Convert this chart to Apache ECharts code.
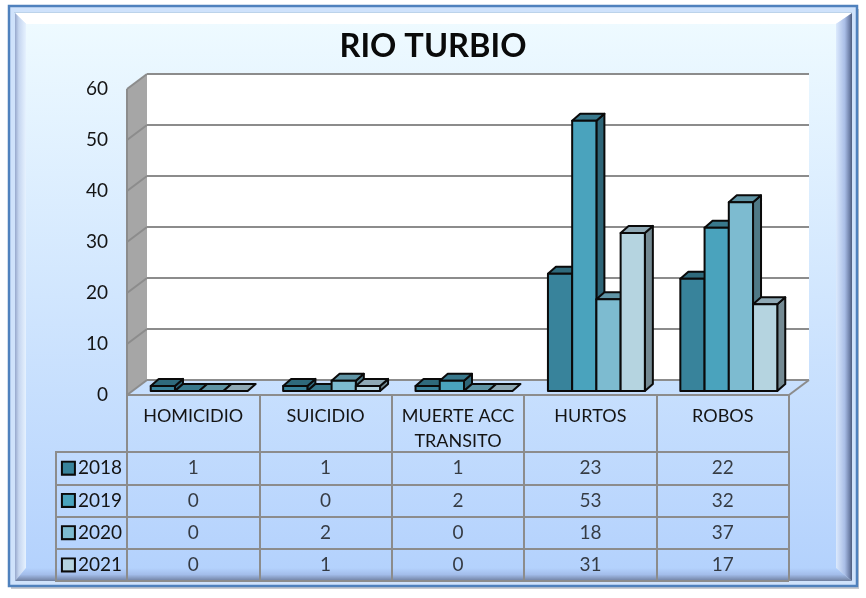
<!DOCTYPE html>
<html>
<head>
<meta charset="utf-8">
<style>html,body{margin:0;padding:0;background:#fff}#c{width:866px;height:598px}</style>
<script src="https://cdn.jsdelivr.net/npm/echarts@6/dist/echarts.min.js"></script>
</head>
<body>
<div id="c"></div>
<script>
var categories = ['HOMICIDIO', 'SUICIDIO', 'MUERTE ACC\nTRANSITO', 'HURTOS', 'ROBOS'];
var years = ['2018', '2019', '2020', '2021'];
var values2018 = [1, 1, 1, 23, 22];
var values2019 = [0, 0, 2, 53, 32];
var values2020 = [0, 2, 0, 18, 37];
var values2021 = [0, 1, 0, 31, 17];
var yTicks = [0, 10, 20, 30, 40, 50, 60];
var title = 'RIO TURBIO';

var rows = [values2018, values2019, values2020, values2021];
var front = ['#38839b', '#4aa3bd', '#7dbbd0', '#b5d4e0'];
var side = ['#2d6578', '#2e6577', '#4f7986', '#748a93'];
var top_ = ['#2f6a7c', '#38788c', '#5f94a5', '#8fa9b5'];
var GRID = '#8c8c8c', FONT = 'Lato, sans-serif', INK = '#141414';
var WALL_DX = 20, WALL_DY = -15, BAR_DX = 6, BAR_DY = -4, DEP_X = 8, DEP_Y = -7, BAR_FRAC = 0.183;

function poly(pts, fill, stroke, w) {
  return { type: 'polygon', shape: { points: pts },
    style: { fill: fill, stroke: stroke || null, lineWidth: w || 0, lineJoin: 'round' } };
}
function line(x1, y1, x2, y2, w) {
  return { type: 'line', shape: { x1: x1, y1: y1, x2: x2, y2: y2 },
    style: { stroke: GRID, lineWidth: w || 2 } };
}
function renderWalls(params, api) {
  var cs = params.coordSys, l = cs.x, r = cs.x + cs.width, t = cs.y, b = cs.y + cs.height;
  return { type: 'group', children: [
    poly([[l + WALL_DX, t + WALL_DY], [r + WALL_DX, t + WALL_DY], [r + WALL_DX, b + WALL_DY], [l + WALL_DX, b + WALL_DY]], '#ffffff'),
    poly([[l, t], [l + WALL_DX, t + WALL_DY], [l + WALL_DX, b + WALL_DY], [l, b]], '#a6a6a6'),
    line(l, t, l, b),
    line(r, b, r + WALL_DX, b + WALL_DY)
  ]};
}
function renderTick(params, api) {
  var cs = params.coordSys, l = cs.x, r = cs.x + cs.width, y = api.coord([0, api.value(0)])[1];
  return { type: 'group', children: [
    line(l, y, l + WALL_DX, y + WALL_DY),
    line(l + WALL_DX, y + WALL_DY, r + WALL_DX, y + WALL_DY)
  ]};
}
function renderBar(s) {
  return function (params, api) {
    var band = api.size([1, 0])[0], w = band * BAR_FRAC;
    var c = api.coord([api.value(0), api.value(1)]), zero = api.coord([api.value(0), 0]);
    var x0 = c[0] + BAR_DX + (s - 2) * w, x1 = x0 + w;
    var yb = zero[1] + BAR_DY, yt = c[1] + BAR_DY;
    var kids = [];
    if (yb - yt > 0.5) {
      kids.push(poly([[x1, yt], [x1 + DEP_X, yt + DEP_Y], [x1 + DEP_X, yb + DEP_Y], [x1, yb]], side[s], '#0a0a0a', 2));
    }
    kids.push(poly([[x0, yt], [x0 + DEP_X, yt + DEP_Y], [x1 + DEP_X, yt + DEP_Y], [x1, yt]], top_[s], '#0a0a0a', 2));
    if (yb - yt > 0.5) {
      kids.push(poly([[x0, yt], [x1, yt], [x1, yb], [x0, yb]], front[s], '#0a0a0a', 2));
    }
    return { type: 'group', children: kids };
  };
}

var barSeries = years.map(function (yr, s) {
  return { type: 'custom', name: yr, xAxisIndex: 0, yAxisIndex: 0, z: 5 + s,
    data: rows[s].map(function (v, i) { return [i, v]; }),
    encode: { x: 0, y: 1 }, renderItem: renderBar(s) };
});
var cellData = [];
rows.forEach(function (r, s) { r.forEach(function (v, i) { cellData.push([i, s, v]); }); });

var rich = { t: { fontFamily: FONT, fontSize: 19, color: INK, padding: [0, 0, 0, 4] } };
years.forEach(function (yr, s) {
  rich['k' + s] = { width: 11, height: 11, backgroundColor: front[s], borderColor: '#0a0a0a', borderWidth: 2 };
});

// frame
var X0 = 9, Y0 = 6, X1 = 857, Y1 = 586;
var IL = 15, IT = 13, IR = 852, IB = 581, PL = 26, PT = 24, PR = 836, PB = 568;
function grad(x, y, x2, y2, stops) {
  return { type: 'linear', x: x, y: y, x2: x2, y2: y2, colorStops: stops.map(function (s) { return { offset: s[0], color: s[1] }; }) };
}
var frame = [
  { type: 'rect', z: -10, shape: { x: X0 + 2, y: Y0 + 3, width: X1 - X0, height: Y1 - Y0 }, style: { fill: '#c9cbd0' } },
  { type: 'rect', z: -9, shape: { x: X0, y: Y0, width: X1 - X0, height: Y1 - Y0 }, style: { fill: '#cfe2fb', stroke: '#4f81bd', lineWidth: 2.5 } },
  { type: 'rect', z: -8, shape: { x: PL, y: PT, width: PR - PL, height: PB - PT }, style: { fill: grad(0, 0, 0, 1, [[0, '#eefaff'], [1, '#b4d2fd']]) } },
  { type: 'polygon', z: -7, shape: { points: [[IL, IT], [IR, IT], [PR, PT], [PL, PT]] }, style: { fill: '#ffffff' } },
  { type: 'polygon', z: -7, shape: { points: [[IL, IT], [PL, PT], [PL, PB], [IL, IB]] }, style: { fill: grad(0, 0, 1, 0, [[0, '#97a8cc'], [0.35, '#c6d6f0'], [1, '#e6f2ff']]) } },
  { type: 'polygon', z: -7, shape: { points: [[IR, IT], [IR, IB], [PR, PB], [PR, PT]] }, style: { fill: grad(0, 0, 1, 0, [[0, '#dceafd'], [0.55, '#a9bde6'], [0.85, '#6f80a8'], [1, '#4d5c7c']]) } },
  { type: 'polygon', z: -7, shape: { points: [[IL, IB], [PL, PB], [PR, PB], [IR, IB]] }, style: { fill: grad(0, 0, 0, 1, [[0, '#b4d2fd'], [0.5, '#a3bdea'], [1, '#6f7f9f']]) } },
  { type: 'line', z: -6, shape: { x1: IL - 1, y1: IT - 0.5, x2: IR, y2: IT - 0.5 }, style: { stroke: '#bcd3ea', lineWidth: 1 } },
  // outer edge of the table's key column
  { type: 'line', z: 1, shape: { x1: 56, y1: 451, x2: 56, y2: 582 }, style: { stroke: GRID, lineWidth: 2 } }
];

var option = {
  animation: false,
  backgroundColor: '#ffffff',
  textStyle: { fontFamily: FONT },
  title: { text: title, left: 'center', top: 25,
    textStyle: { fontFamily: FONT, fontWeight: 'bold', fontSize: 32.6, color: '#0a0a0a' } },
  graphic: { elements: frame },
  grid: [
    { left: 127, top: 89, width: 662, height: 306 },
    { left: 127, top: 452, width: 662, height: 129 }
  ],
  xAxis: [
    { type: 'category', gridIndex: 0, data: categories, position: 'bottom',
      axisLine: { show: true, lineStyle: { color: GRID, width: 2 } },
      axisTick: { show: true, length: 57, lineStyle: { color: GRID, width: 2 } },
      axisLabel: { interval: 0, margin: 9, fontFamily: FONT, fontSize: 18, color: INK, lineHeight: 25, verticalAlign: 'top' } },
    { type: 'category', gridIndex: 1, data: categories, position: 'top',
      axisLine: { show: true, lineStyle: { color: GRID, width: 2 } },
      axisTick: { show: false }, axisLabel: { show: false },
      splitLine: { show: true, interval: 0, lineStyle: { color: GRID, width: 2 } } }
  ],
  yAxis: [
    { type: 'value', gridIndex: 0, min: 0, max: 60, interval: 10,
      axisLine: { show: false }, axisTick: { show: false }, splitLine: { show: false },
      axisLabel: { margin: 19, fontFamily: FONT, fontSize: 19, color: INK } },
    { type: 'category', gridIndex: 1, data: years, inverse: true,
      axisLine: { show: true, lineStyle: { color: GRID, width: 2 } },
      axisTick: { show: true, length: 71, lineStyle: { color: GRID, width: 2 } },
      splitLine: { show: true, interval: 0, lineStyle: { color: GRID, width: 2 } },
      axisLabel: { interval: 0, margin: 5, align: 'right', rich: rich,
        formatter: function (v) { return '{k' + years.indexOf(v) + '|}{t|' + v + '}'; } } }
  ],
  series: [
    { type: 'custom', name: 'walls', z: 2, xAxisIndex: 0, yAxisIndex: 0, data: [[0, 0]], encode: { x: 0, y: 1 }, renderItem: renderWalls },
    { type: 'custom', name: 'gridlines', z: 3, xAxisIndex: 0, yAxisIndex: 0, data: yTicks.map(function (v) { return [v]; }), encode: { y: 0 }, renderItem: renderTick }
  ].concat(barSeries, [
    { type: 'scatter', name: 'table', xAxisIndex: 1, yAxisIndex: 1, z: 10, data: cellData,
      symbolSize: 1, itemStyle: { color: 'rgba(0,0,0,0)' },
      label: { show: true, position: 'inside', fontFamily: FONT, fontSize: 19, color: INK,
        formatter: function (p) { return String(p.value[2]); } } }
  ])
};
var chart = echarts.init(document.getElementById('c'), null, { renderer: 'canvas' });
chart.setOption(option);
</script>
</body>
</html>
